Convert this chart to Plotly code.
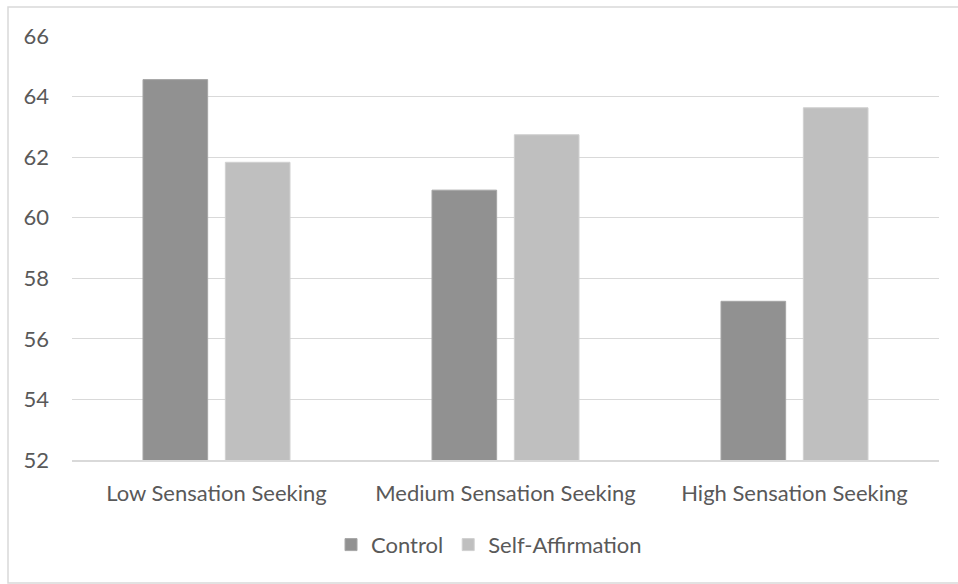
import plotly.graph_objects as go

categories = ["Low Sensation Seeking", "Medium Sensation Seeking", "High Sensation Seeking"]
control = [64.56, 60.91, 57.24]
self_affirmation = [61.83, 62.74, 63.63]
y_ticks = [52, 54, 56, 58, 60, 62, 64, 66]

FONT = "Lato"
TXT = "#595959"
FS = 22

fig = go.Figure()
fig.add_trace(go.Bar(name="Control", x=categories, y=control,
                     marker=dict(color="#919191", line=dict(color="#a6a6a6", width=1))))
fig.add_trace(go.Bar(name="Self-Affirmation", x=categories, y=self_affirmation,
                     marker=dict(color="#bfbfbf", line=dict(color="#d0d0d0", width=1))))

L, R, T, B = 72, 19, 36, 124
W, H = 958, 584
pw, ph = W - L - R, H - T - B

fig.update_layout(
    width=W, height=H,
    margin=dict(l=L, r=R, t=T, b=B),
    paper_bgcolor="white", plot_bgcolor="white",
    barmode="group", bargap=0.43, bargroupgap=0.215,
    font=dict(family=FONT, size=FS, color=TXT),
    showlegend=True,
    legend=dict(orientation="h", x=0.481, xanchor="center", y=-0.2, yanchor="middle",
                font=dict(family=FONT, size=FS, color=TXT), itemwidth=30,
                traceorder="normal"),
    xaxis=dict(showgrid=False, showline=True, linecolor="#d9d9d9", linewidth=1.5,
               ticks="", ticklabelstandoff=13, tickfont=dict(size=FS, color=TXT)),
    yaxis=dict(range=[52, 66], tickvals=y_ticks, showgrid=True, gridcolor="#d9d9d9",
               gridwidth=1.2, zeroline=False, showline=False, ticks="",
               ticklabelstandoff=22, tickfont=dict(size=FS, color=TXT)),
    shapes=[dict(type="rect", xref="paper", yref="paper",
                 x0=(8 - L) / pw, x1=(975 - L) / pw,
                 y0=-(583 - (H - B)) / ph, y1=1 + (T - 7) / ph,
                 line=dict(color="#d9d9d9", width=1.5), fillcolor="rgba(0,0,0,0)", layer="below")],
)

fig.write_html("out.html", config={"displayModeBar": False},
               post_script="document.body.style.margin='0';document.body.style.overflow='hidden';")
